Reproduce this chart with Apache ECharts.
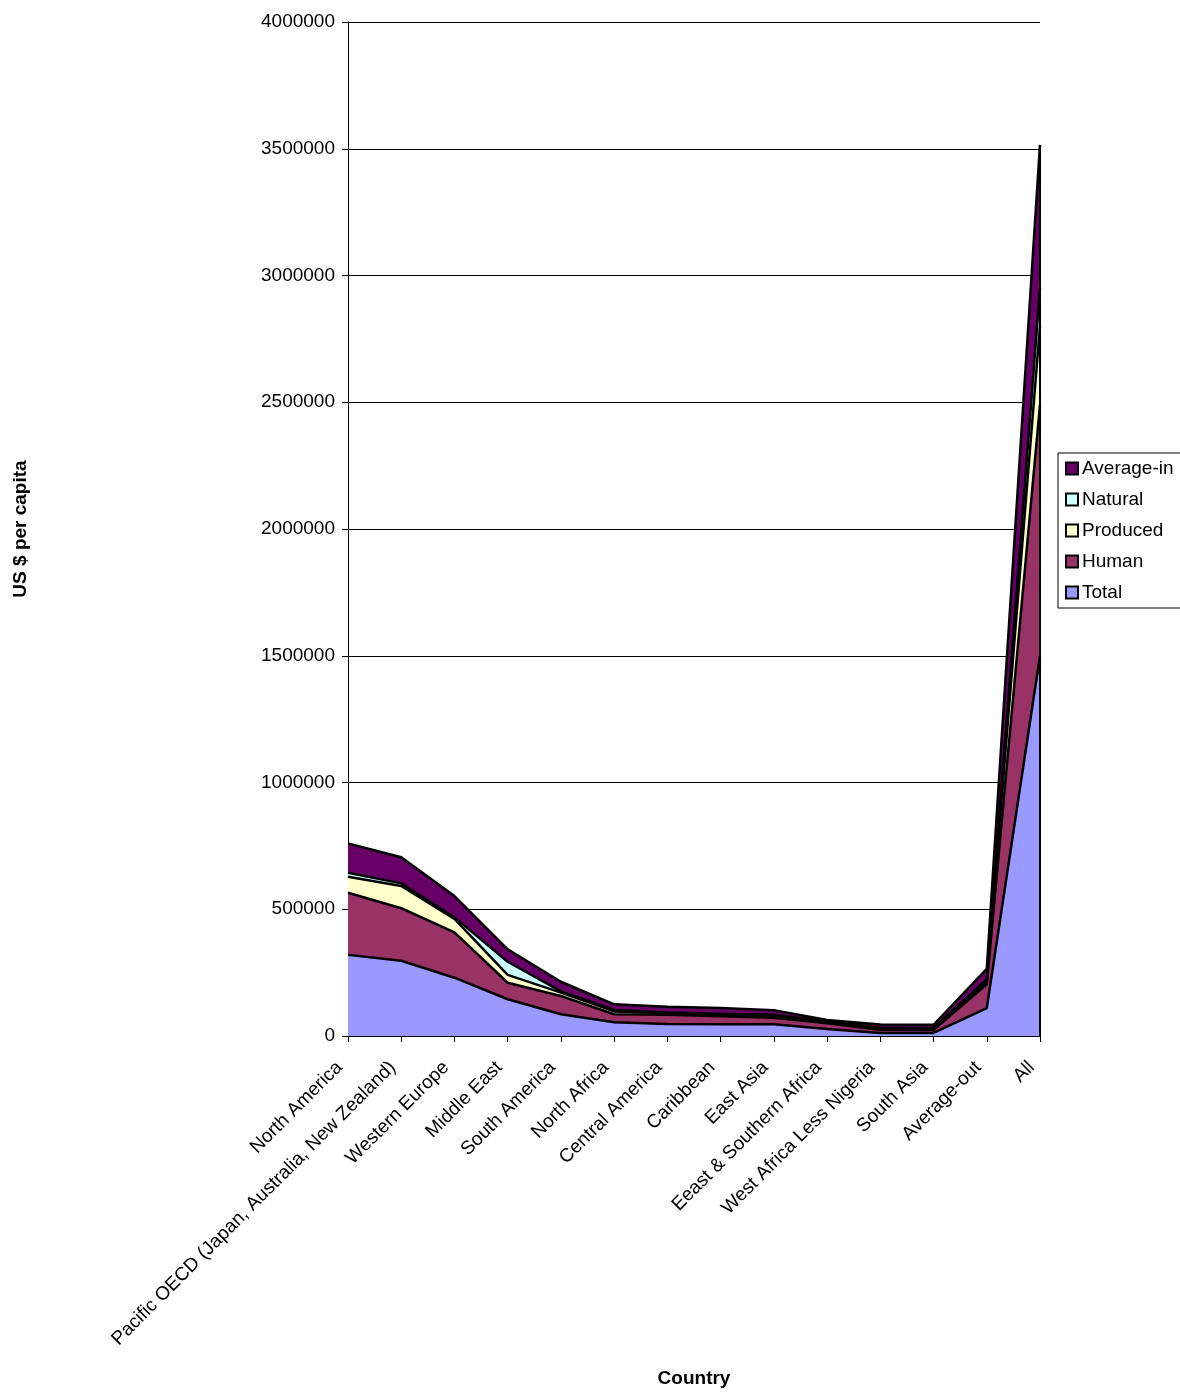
<!DOCTYPE html>
<html>
<head>
<meta charset="utf-8">
<script src="https://cdn.jsdelivr.net/npm/echarts@6/dist/echarts.min.js"></script>
<style>
  html, body { margin: 0; padding: 0; background: #fff; }
  #chart { width: 1180px; height: 1393px; }
</style>
</head>
<body>
<div id="chart"></div>
<script>
// Regions, left to right
const categories = [
  'North America',
  'Pacific OECD (Japan, Australia, New Zealand)',
  'Western Europe',
  'Middle East',
  'South America',
  'North Africa',
  'Central America',
  'Caribbean',
  'East Asia',
  'Eeast & Southern Africa',
  'West Africa Less Nigeria',
  'South Asia',
  'Average-out',
  'All'
];

// Stacked components, US $ per capita (bottom to top)
const totalValues     = [320000, 297000, 230000, 145000, 86000, 54000, 47000, 46000, 46000, 28000, 12000, 12000, 110000, 1500000];
const humanValues     = [245000, 207000, 179000, 65000, 72000, 32000, 37000, 32000, 26000, 22000, 13000, 12000, 94000, 990000];
const producedValues  = [63000, 88000, 53000, 31000, 13000, 11000, 6000, 6000, 8000, 5000, 5000, 5000, 10000, 310000];
const naturalValues   = [16000, 10000, 6000, 52000, 5000, 6000, 3000, 4000, 4000, 3000, 3000, 3000, 10000, 150000];
const averageInValues = [116000, 103000, 84000, 49000, 38000, 22000, 22000, 22000, 18000, 5000, 12000, 12000, 41000, 565000];

const yTicks = { min: 0, max: 4000000, interval: 500000 };

const FONT = '"Liberation Sans", Arial, sans-serif';

const seriesDefs = [
  { name: 'Total',      data: totalValues,     color: '#9999FF' },
  { name: 'Human',      data: humanValues,     color: '#993366' },
  { name: 'Produced',   data: producedValues,  color: '#FFFFCC' },
  { name: 'Natural',    data: naturalValues,   color: '#CCFFFF' },
  { name: 'Average-in', data: averageInValues, color: '#660066' }
];

// closing edge of the stack at the last category
const lastIdx = categories.length - 1;
const stackTopAtLast = seriesDefs.reduce((sum, s) => sum + s.data[lastIdx], 0);

const chart = echarts.init(document.getElementById('chart'), null, { renderer: 'canvas' });

chart.setOption({
  animation: false,
  backgroundColor: '#ffffff',
  grid: { left: 348, right: 140, top: 22, bottom: 357, containLabel: false },
  legend: {
    orient: 'vertical',
    left: 1058,
    top: 453,
    data: ['Average-in', 'Natural', 'Produced', 'Human', 'Total'],
    icon: 'rect',
    itemWidth: 12,
    itemHeight: 12,
    itemGap: 12,
    padding: [6, 30, 6, 7],
    borderColor: '#000',
    borderWidth: 1,
    textStyle: { fontFamily: FONT, fontSize: 19, color: '#000', padding: [0, 0, 0, -1] }
  },
  xAxis: {
    type: 'category',
    data: categories,
    boundaryGap: false,
    name: 'Country',
    nameLocation: 'middle',
    nameGap: 333,
    nameTextStyle: { fontFamily: FONT, fontSize: 19, fontWeight: 'bold', color: '#000' },
    axisLine: { lineStyle: { color: '#000', width: 1 } },
    axisTick: { show: true, alignWithLabel: true, length: 6, lineStyle: { color: '#000' } },
    axisLabel: {
      rotate: 45,
      interval: 0,
      margin: 20,
      padding: [0, 12, 0, 0],
      fontFamily: FONT,
      fontSize: 19,
      color: '#000'
    },
    splitLine: { show: false }
  },
  yAxis: {
    type: 'value',
    min: yTicks.min,
    max: yTicks.max,
    interval: yTicks.interval,
    name: 'US $ per capita',
    nameLocation: 'middle',
    nameRotate: 90,
    nameGap: 318,
    nameTextStyle: { fontFamily: FONT, fontSize: 19, fontWeight: 'bold', color: '#000' },
    axisLine: { show: true, lineStyle: { color: '#000', width: 1 } },
    axisTick: { show: true, length: 6, lineStyle: { color: '#000' } },
    axisLabel: {
      margin: 13,
      fontFamily: FONT,
      fontSize: 19,
      color: '#000',
      formatter: v => String(v)
    },
    splitLine: { show: true, lineStyle: { color: '#000', width: 1 } }
  },
  series: seriesDefs.map((s, i) => ({
    name: s.name,
    type: 'line',
    stack: 'capital',
    data: s.data,
    symbol: 'none',
    smooth: false,
    color: s.color,
    itemStyle: { color: s.color, borderColor: '#000', borderWidth: 1 },
    lineStyle: { color: '#000', width: 2.5 },
    areaStyle: { color: s.color, opacity: 1 },
    emphasis: { disabled: true },
    markLine: i === 0 ? {
      silent: true,
      symbol: ['none', 'none'],
      label: { show: false },
      lineStyle: { color: '#000', width: 2, type: 'solid' },
      data: [[
        { coord: [categories[lastIdx], 0] },
        { coord: [categories[lastIdx], stackTopAtLast] }
      ]]
    } : undefined
  }))
});
</script>
</body>
</html>
